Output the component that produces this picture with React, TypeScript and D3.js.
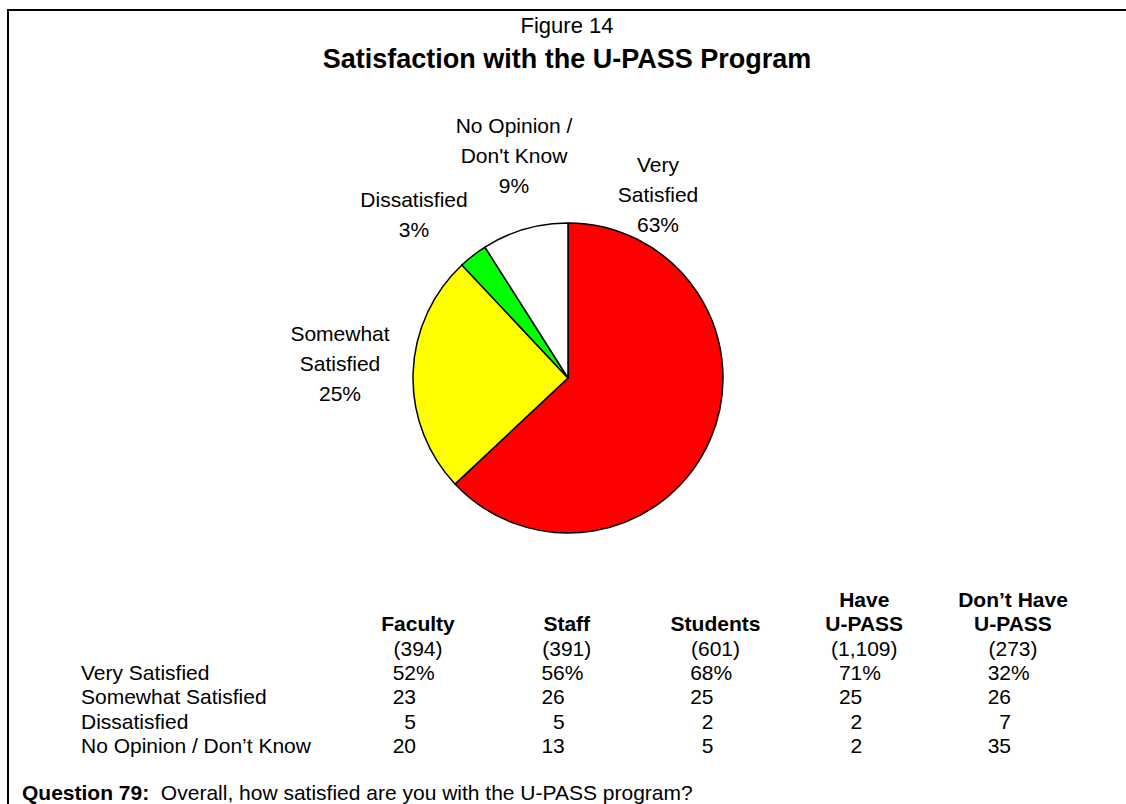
import React from "react";
import * as d3 from "d3";

// ---- data ----
const sliceNames = ["Very Satisfied", "Somewhat Satisfied", "Dissatisfied", "No Opinion / Don't Know"];
const sliceValues = [63, 25, 3, 9];
const sliceColors = ["#FF0000", "#FFFF00", "#00FF00", "#FFFFFF"];
const sliceLabelLines = [["Very", "Satisfied"], ["Somewhat", "Satisfied"], ["Dissatisfied"], ["No Opinion /", "Don't Know"]];

const groupHeadTop = ["", "", "", "Have", "Don\u2019t Have"];
const groupHeadBottom = ["Faculty", "Staff", "Students", "U-PASS", "U-PASS"];
const groupCounts = ["(394)", "(391)", "(601)", "(1,109)", "(273)"];
const rowLabels = ["Very Satisfied", "Somewhat Satisfied", "Dissatisfied", "No Opinion / Don\u2019t Know"];
const faculty = [52, 23, 5, 20];
const staff = [56, 26, 5, 13];
const students = [68, 25, 2, 5];
const haveUpass = [71, 25, 2, 2];
const dontHaveUpass = [32, 26, 7, 35];

const FONT = "Arial, 'Liberation Sans', sans-serif";

export default function App() {
  const W = 1126, H = 804;
  const cx = 568, cy = 378, r = 155;
  const pie = d3.pie<number>().value((d) => d).sort(null);
  const arcs = pie(sliceValues);
  const arcGen = d3.arc<d3.PieArcDatum<number>>().innerRadius(0).outerRadius(r);

  // label anchor positions (center x, first baseline y)
  const labelPos = [
    { x: 658, y: 172 },
    { x: 340, y: 341 },
    { x: 414, y: 207 },
    { x: 514, y: 133 },
  ];
  const pieLineH = 30;

  const columns = [faculty, staff, students, haveUpass, dontHaveUpass];
  const colX = d3.scalePoint<number>().domain(d3.range(columns.length)).range([418, 1013]);
  const rowY = d3.scaleLinear().domain([0, 1]).range([607, 631.3]);
  const digitEndOffset = -2;
  const tableFont = 21;

  return (
    <svg width={W} height={H} style={{ position: "absolute", left: 0, top: 0, background: "#fff" }} fontFamily={FONT}>
      <rect x={0} y={0} width={W} height={H} fill="#fff" />
      <rect x={8} y={10} width={W + 20} height={H + 20} fill="none" stroke="#000" strokeWidth={2} />

      <text x={567} y={33} textAnchor="middle" fontSize={22}>Figure 14</text>
      <text x={567} y={68} textAnchor="middle" fontSize={27} fontWeight="bold">Satisfaction with the U-PASS Program</text>

      <g transform={`translate(${cx},${cy})`}>
        {arcs.map((a, i) => (
          <path key={i} d={arcGen(a) || ""} fill={sliceColors[i]} stroke="#000" strokeWidth={1.5} strokeLinejoin="round" />
        ))}
      </g>

      {arcs.map((a, i) => {
        const lines = [...sliceLabelLines[i], `${sliceValues[i]}%`];
        return (
          <text key={sliceNames[i]} textAnchor="middle" fontSize={21}>
            {lines.map((l, j) => (
              <tspan key={j} x={labelPos[i].x} y={labelPos[i].y + j * pieLineH}>{l}</tspan>
            ))}
          </text>
        );
      })}

      {/* table */}
      {columns.map((col, c) => {
        const x = colX(c)!;
        const dEnd = x + digitEndOffset;
        return (
          <g key={c} fontSize={tableFont}>
            {groupHeadTop[c] && (
              <text x={x} y={rowY(0)} textAnchor="middle" fontWeight="bold">{groupHeadTop[c]}</text>
            )}
            <text x={x} y={rowY(1)} textAnchor="middle" fontWeight="bold">{groupHeadBottom[c]}</text>
            <text x={x} y={rowY(2)} textAnchor="middle">{groupCounts[c]}</text>
            {col.map((v, ri) => (
              <text key={ri} x={dEnd} y={rowY(3 + ri)} textAnchor="end">{v}</text>
            ))}
            <text x={dEnd} y={rowY(3)}>%</text>
          </g>
        );
      })}
      {rowLabels.map((l, ri) => (
        <text key={l} x={81} y={rowY(3 + ri)} fontSize={tableFont}>{l}</text>
      ))}

      <text x={22} y={rowY(8) - 1} fontSize={tableFont}>
        <tspan fontWeight="bold">Question 79:</tspan>
        <tspan>{"\u00a0\u00a0Overall, how satisfied are you with the U-PASS program?"}</tspan>
      </text>
    </svg>
  );
}
